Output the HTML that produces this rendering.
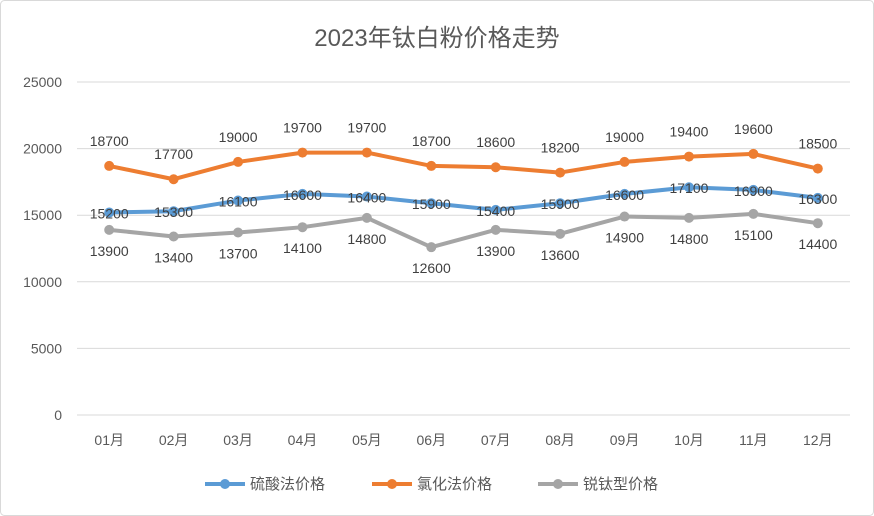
<!DOCTYPE html>
<html><head><meta charset="utf-8"><style>
body{margin:0;background:#fff;}
svg{display:block;font-family:"Liberation Sans","Noto Sans CJK SC",sans-serif;}
</style></head><body>
<svg id="chart" width="874" height="516" viewBox="0 0 874 516">
<rect x="0.5" y="0.5" width="873" height="515" rx="4" fill="#fff" stroke="#d9d9d9"/>
<text x="437" y="46" text-anchor="middle" font-size="24" fill="#595959">2023年钛白粉价格走势</text>
<g id="grid"></g><g id="axes"></g><g id="series"></g><g id="legend"></g>
</svg>
<script>
const categories=["01月","02月","03月","04月","05月","06月","07月","08月","09月","10月","11月","12月"];
const sulfuric=[15200,15300,16100,16600,16400,15900,15400,15900,16600,17100,16900,16300];
const chloride=[18700,17700,19000,19700,19700,18700,18600,18200,19000,19400,19600,18500];
const rutile=[13900,13400,13700,14100,14800,12600,13900,13600,14900,14800,15100,14400];
const yTicks=[0,5000,10000,15000,20000,25000];
const seriesNames=["硫酸法价格","氯化法价格","锐钛型价格"];
const NS="http://www.w3.org/2000/svg";
const L=77,R=850,T=82,B=415,maxY=25000;
const step=(R-L)/categories.length;
const x=i=>L+step*(i+0.5);
const y=v=>B-(v/maxY)*(B-T);
function mk(tag,attrs,parent,text){const e=document.createElementNS(NS,tag);for(const k in attrs)e.setAttribute(k,attrs[k]);if(text!==undefined)e.textContent=text;parent.appendChild(e);return e;}
const grid=document.getElementById('grid'),axes=document.getElementById('axes'),ser=document.getElementById('series'),leg=document.getElementById('legend');
yTicks.forEach(t=>{
 const ln=mk('line',{x1:L,x2:R,y1:y(t),y2:y(t),stroke:'#d9d9d9','stroke-width':1},grid);
 
 
 const tx=mk('text',{x:62,y:y(t)+5,'text-anchor':'end','font-size':14,fill:'#595959'},axes,String(t));
 
 
});
categories.forEach((c,i)=>{
 const tx=mk('text',{x:x(i),y:445,'text-anchor':'middle','font-size':14,fill:'#595959'},axes,c);
 
 
});
const defs=[{d:rutile,c:'#a5a5a5',off:26,n:'rutile'},{d:sulfuric,c:'#5b9bd5',off:6,n:'sulfuric'},{d:chloride,c:'#ed7d31',off:-20,n:'chloride'}];
defs.forEach(s=>{
 const g=mk('g',{},ser);
 
 
 const pts=s.d.map((v,i)=>x(i)+','+y(v)).join(' ');
 const pl=mk('polyline',{points:pts,fill:'none',stroke:s.c,'stroke-width':4,'stroke-linejoin':'round','stroke-linecap':'round'},g);
 
 
 s.d.forEach((v,i)=>{
  const c=mk('circle',{cx:x(i),cy:y(v),r:5,fill:s.c},g);
  
  
 });
});
defs.forEach(s=>{
 s.d.forEach((v,i)=>{
  const t=mk('text',{x:x(i),y:y(v)+s.off,'text-anchor':'middle','font-size':14,fill:'#404040'},ser,String(v));
  
  
 });
});
const legCols=['#5b9bd5','#ed7d31','#a5a5a5'];const legX=[205,372,538];
seriesNames.forEach((n,i)=>{
 const g=mk('g',{},leg);
 
 
 mk('line',{x1:legX[i],x2:legX[i]+40,y1:484,y2:484,stroke:legCols[i],'stroke-width':4},g);
 mk('circle',{cx:legX[i]+20,cy:484,r:5,fill:legCols[i]},g);
 mk('text',{x:legX[i]+45,y:489,'font-size':15,fill:'#595959'},g,n);
});
</script>
</body></html>
